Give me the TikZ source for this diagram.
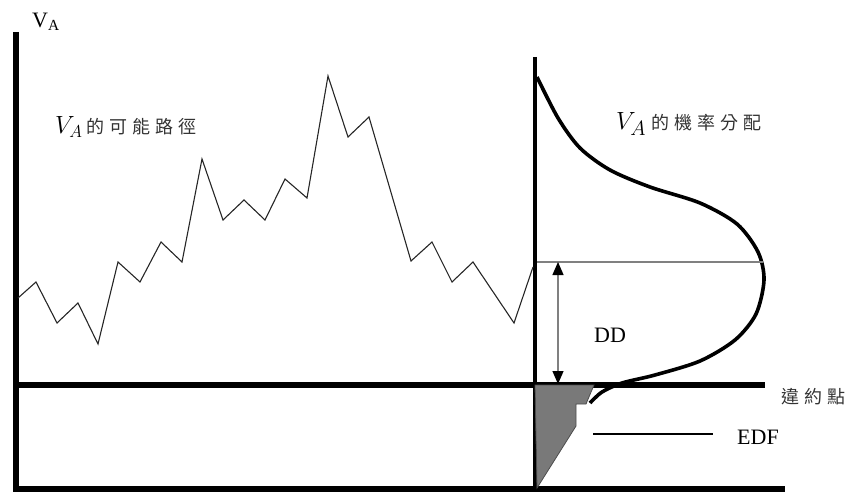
\documentclass[tikz,border=0pt]{standalone}
\usepackage{fontspec}
\setmainfont{Liberation Serif}
\newfontfamily\cjk[LetterSpace=28]{Noto Sans CJK TC}
\usetikzlibrary{arrows.meta}

\begin{document}
\begin{tikzpicture}[
    x=1pt, y=-1pt,
    axis/.style={line width=6pt},
    path/.style={line width=1.1pt, black!85, line join=miter},
    density/.style={line width=3.6pt},
    label/.style={inner sep=0pt, font=\fontsize{22}{22}\selectfont},
    cjklabel/.style={inner sep=0pt, black!80, font=\fontsize{18}{18}\selectfont\cjk},
    dd/.style={{Triangle[width=11pt,length=13pt,color=black]}-{Triangle[width=11pt,length=13pt,color=black]}, gray, line width=1.3pt},
]

\useasboundingbox (0,0) rectangle (853,492);

%----------------------------------
% Axes
%----------------------------------

\draw[axis] (16,32) -- (16,492);
\draw[axis] (13,385) -- (765,385);
\draw[axis] (13,489) -- (785,489);
\draw[line width=4pt] (535,57) -- (535,492);

\node[label, anchor=south west] (vA) at (32,31) {V\textsubscript{A}};

%----------------------------------
% Possible path of V_A
%----------------------------------

\draw[path]
    (18,298) -- (36,282) -- (57,323) -- (78,303) -- (98,344)
    -- (118,262) -- (140,282) -- (161,242) -- (182,262) -- (202,159)
    -- (223,220) -- (244,200) -- (265,220) -- (285,179) -- (307,198)
    -- (328,76) -- (348,137) -- (369,117) -- (411,261) -- (432,242)
    -- (452,282) -- (473,262) -- (514,323) -- (533,267);

\node[anchor=west, inner sep=0pt] (pathLabel) at (55,127)
    {\fontsize{23}{23}\selectfont$V_A$\,{\fontsize{18}{18}\selectfont\cjk\color{black!80}的可能路徑}};

%----------------------------------
% Distribution of V_A
%----------------------------------

\fill[gray!95!black, draw=black!70, line width=0.8pt]
    (535,385) -- (594,385) -- (586,404) -- (576,404) -- (576,426) -- (537,488) -- cycle;

\draw[density] plot[smooth, tension=0.5] coordinates {
    (537,77) (558,118) (580,148) (610,170) (650,187) (700,203)
    (737,224) (758,252) (764,280) (756,314) (735,340) (700,361)
    (655,375) (622,383) (602,392) (590,403)
};

\node[anchor=west, inner sep=0pt] (distLabel) at (616,124)
    {\fontsize{31}{31}\selectfont$V_A$\,{\fontsize{18}{18}\selectfont\cjk\color{black!80}的機率分配}};

%----------------------------------
% Distance to default
%----------------------------------

\draw[gray, line width=1.5pt] (537,262) -- (763,262);

\coordinate (ddTop) at (558,262);
\coordinate (ddBot) at (558,384);
\draw[dd] (ddTop) -- (ddBot);

\node[label, anchor=center] (dd) at (610,335) {DD};

\node[cjklabel, anchor=west] (default) at (781,397) {違約點};

%----------------------------------
% EDF
%----------------------------------

\coordinate (edfStart) at (593,434);
\node[label, anchor=west] (edf) at (737,437) {EDF};
\draw[line width=1.2pt] (edfStart) -- (713,434);

\end{tikzpicture}
\end{document}
